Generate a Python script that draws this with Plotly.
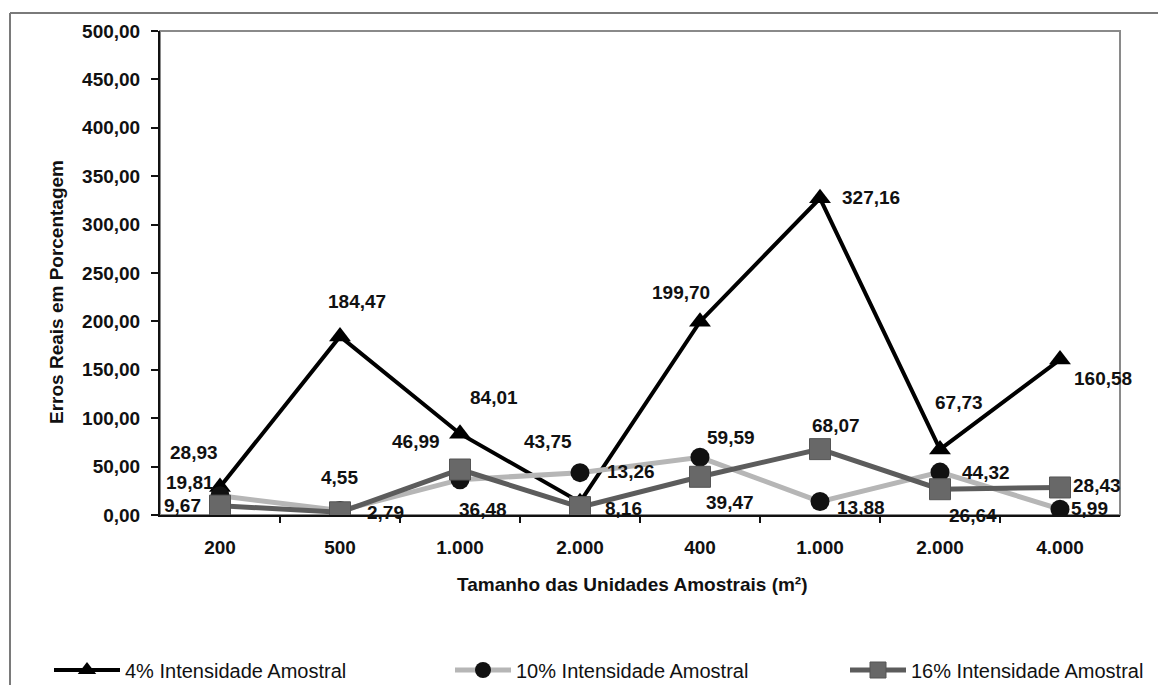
import plotly.graph_objects as go

# Categories (sample-unit sizes in m²) and the three sampling intensities
categories = ["200", "500", "1.000", "2.000", "400", "1.000", "2.000", "4.000"]
erro_4 = [28.93, 184.47, 84.01, 13.26, 199.70, 327.16, 67.73, 160.58]
erro_10 = [19.81, 4.55, 36.48, 43.75, 59.59, 13.88, 44.32, 5.99]
erro_16 = [9.67, 2.79, 46.99, 8.16, 39.47, 68.07, 26.64, 28.43]
y_ticks = [0, 50, 100, 150, 200, 250, 300, 350, 400, 450, 500]

x_pos = list(range(len(categories)))

# pixel offsets (dx right, dy down) of each value label from its marker
off_4 = [(-26, -35), (17, -35), (34, -36), (51, -31), (-19, -29), (51, -1), (19, -47), (43, 19)]
off_10 = [(-30, -13), (-1, -33), (23, 30), (-32, -31), (31, -20), (41, 6), (46, 0), (29, -1)]
off_16 = [(-38, 0), (45, 0), (-44, -28), (43, 1), (30, 26), (16, -24), (33, 26), (37, -2)]

FONT = "Liberation Sans, Arial, sans-serif"
INK = "#111111"

FIG_W, FIG_H = 1161, 686
# plot-area geometry in pixels (used to place paper-referenced items)
L, R, T, B = 160, 1120, 31, 515
W, H = R - L, B - T


def px(xp):
    return (xp - L) / W


def py(yp):
    return (B - yp) / H


fig = go.Figure()

fig.add_trace(go.Scatter(
    x=x_pos, y=erro_4, mode="lines+markers", name="4% Intensidade Amostral",
    line=dict(color="#000000", width=4),
    marker=dict(symbol="triangle-up", size=19, color="#000000"),
    legend="legend",
))
fig.add_trace(go.Scatter(
    x=x_pos, y=erro_10, mode="lines+markers", name="10% Intensidade Amostral",
    line=dict(color="#b6b6b6", width=5),
    marker=dict(symbol="circle", size=19, color="#111111"),
    legend="legend2",
))
fig.add_trace(go.Scatter(
    x=x_pos, y=erro_16, mode="lines+markers", name="16% Intensidade Amostral",
    line=dict(color="#5c5c5c", width=5),
    marker=dict(symbol="square", size=21, color="#686868",
                line=dict(color="#555555", width=1)),
    legend="legend3",
))


def fmt(v):
    return f"{v:.2f}".replace(".", ",")


label_font = dict(family=FONT, size=19, color=INK, weight="bold")

annotations = []
for values, offsets in ((erro_4, off_4), (erro_10, off_10), (erro_16, off_16)):
    for xi, v, (dx, dy) in zip(x_pos, values, offsets):
        annotations.append(dict(
            x=xi, y=v, xref="x", yref="y", text=fmt(v), showarrow=False,
            xshift=dx, yshift=-dy, font=label_font,
        ))

# axis titles
annotations.append(dict(
    x=px(632), y=py(584), xref="paper", yref="paper",
    xanchor="center", yanchor="middle",
    text="Tamanho das Unidades Amostrais (m²)", showarrow=False,
    font=dict(family=FONT, size=19, color=INK, weight="bold"),
))
annotations.append(dict(
    x=px(57), y=py(292), xref="paper", yref="paper", textangle=-90,
    xanchor="center", yanchor="middle",
    text="Erros Reais em Porcentagem", showarrow=False,
    font=dict(family=FONT, size=19, color=INK, weight="bold"),
))

frame = dict(color="#7a7a7a", width=2)
shapes = [
    # outer chart frame (left and top edges, kept inside the canvas)
    dict(type="line", xref="paper", yref="paper", x0=px(10), x1=px(10),
         y0=py(FIG_H - 1), y1=py(13), line=frame, layer="below"),
    dict(type="line", xref="paper", yref="paper", x0=px(10), x1=px(FIG_W - 3),
         y0=py(13), y1=py(13), line=frame, layer="below"),
    # plot-area frame
    dict(type="rect", xref="paper", yref="paper", x0=0, x1=1, y0=0, y1=1,
         line=dict(color="#8a8a8a", width=2), layer="below"),
]

legend_common = dict(
    orientation="h", yref="paper", y=py(670), yanchor="middle", xanchor="left",
    bgcolor="rgba(0,0,0,0)",
    font=dict(family=FONT, size=20, color=INK),
)

fig.update_layout(
    width=FIG_W, height=FIG_H,
    margin=dict(l=L, r=FIG_W - R, t=T, b=FIG_H - B, autoexpand=False),
    paper_bgcolor="white", plot_bgcolor="white",
    separators=",.",
    showlegend=True,
    legend=dict(x=px(49), itemwidth=66, **legend_common),
    legend2=dict(x=px(450), itemwidth=56, **legend_common),
    legend3=dict(x=px(845), itemwidth=56, **legend_common),
    annotations=annotations,
    shapes=shapes,
    xaxis=dict(
        range=[-0.5, 7.5], tickvals=x_pos, ticktext=categories,
        ticks="", showgrid=False, zeroline=False,
        showline=True, linecolor="#111111", linewidth=2,
        ticklabelstandoff=14,
        tickfont=dict(family=FONT, size=19, color=INK, weight="bold"),
        minor=dict(tickvals=[0.5, 1.5, 2.5, 3.5, 4.5, 5.5, 6.5], ticks="outside",
                   ticklen=6, tickcolor="#111111", tickwidth=1.5),
    ),
    yaxis=dict(
        range=[0, 500], tickvals=y_ticks, tickformat=".2f",
        ticks="outside", ticklen=7, tickcolor="#111111", tickwidth=1.5,
        showgrid=False, zeroline=False,
        showline=True, linecolor="#111111", linewidth=2,
        ticklabelstandoff=7,
        tickfont=dict(family=FONT, size=19, color=INK, weight="bold"),
    ),
)

fig.write_html("out.html")
